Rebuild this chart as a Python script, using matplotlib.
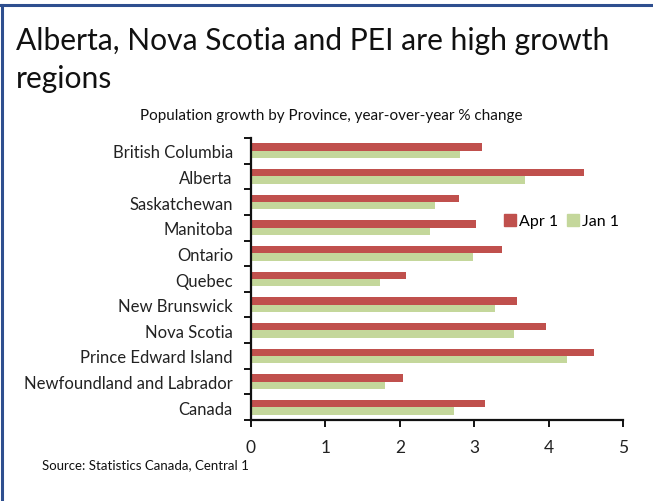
import matplotlib
matplotlib.use("Agg")
import matplotlib.pyplot as plt
import numpy as np
from matplotlib.lines import Line2D

plt.rcParams['font.family'] = ['Lato', 'DejaVu Sans']

provinces = ["British Columbia", "Alberta", "Saskatchewan", "Manitoba", "Ontario",
             "Quebec", "New Brunswick", "Nova Scotia", "Prince Edward Island",
             "Newfoundland and Labrador", "Canada"]
apr1 = [3.11, 4.47, 2.79, 3.02, 3.37, 2.08, 3.58, 3.96, 4.61, 2.04, 3.14]
jan1 = [2.81, 3.68, 2.47, 2.40, 2.98, 1.73, 3.28, 3.53, 4.25, 1.80, 2.73]
xticks = [0, 1, 2, 3, 4, 5]

red = "#C0504D"
green = "#C4D79B"

fig = plt.figure(figsize=(6.53, 5.02), dpi=100)
ax = fig.add_axes([251/653, 1-421/502, (623-251)/653, (421-139)/502])

n = len(provinces)
pos = np.arange(n)[::-1]  # top category first
h = 0.287
ax.barh(pos + h/2, apr1, height=h, color=red, label="Apr 1")
ax.barh(pos - h/2, jan1, height=h, color=green, label="Jan 1")

ax.set_xlim(0, 5)
ax.set_ylim(-0.5, n - 0.5)
ax.set_xticks(xticks)
ax.set_xticklabels([str(t) for t in xticks])
ax.set_yticks(pos)
ax.set_yticklabels(provinces)
ax.set_yticks(np.arange(n + 1) - 0.5, minor=True)
ax.tick_params(axis='y', which='major', length=0, pad=13, labelsize=12, labelcolor='#222222')
ax.tick_params(axis='y', which='minor', length=5, width=1.3, direction='out')
ax.tick_params(axis='x', length=5, width=1.3, direction='out', pad=9, labelsize=12.5, labelcolor='#222222')
for s in ['top', 'right']:
    ax.spines[s].set_visible(False)
for s in ['left', 'bottom']:
    ax.spines[s].set_linewidth(1.6)
    ax.spines[s].set_color('#111111')

handles = [Line2D([0], [0], marker='s', linestyle='none', markersize=9, markerfacecolor=red, markeredgecolor=red),
           Line2D([0], [0], marker='s', linestyle='none', markersize=9, markerfacecolor=green, markeredgecolor=green)]
fig.legend(handles, ["Apr 1", "Jan 1"], loc='center', bbox_to_anchor=(562/653, 1-222/502),
           ncol=2, frameon=False, fontsize=11.5, handlelength=0.7, handletextpad=0.2, columnspacing=0.6,
           borderpad=0, borderaxespad=0)

fig.text(16/653, 1-50/502, "Alberta, Nova Scotia and PEI are high growth", fontsize=21.6, color='#111111', va='baseline', ha='left')
fig.text(16/653, 1-88/502, "regions", fontsize=21.6, color='#111111', va='baseline', ha='left')
fig.text(331/653, 1-120/502, "Population growth by Province, year-over-year % change", fontsize=11, color='#111111', va='baseline', ha='center')
fig.text(42/653, 1-469/502, "Source: Statistics Canada, Central 1", fontsize=9.5, color='#111111', va='baseline', ha='left')

# border lines (top and left)
fig.add_artist(Line2D([0, 1], [1-6/502, 1-6/502], transform=fig.transFigure, color='#2E4F8F', linewidth=2.2))
fig.add_artist(Line2D([1.5/653, 1.5/653], [0, 1-6/502], transform=fig.transFigure, color='#2E4F8F', linewidth=2.2))

fig.savefig("out.png", dpi=100)
